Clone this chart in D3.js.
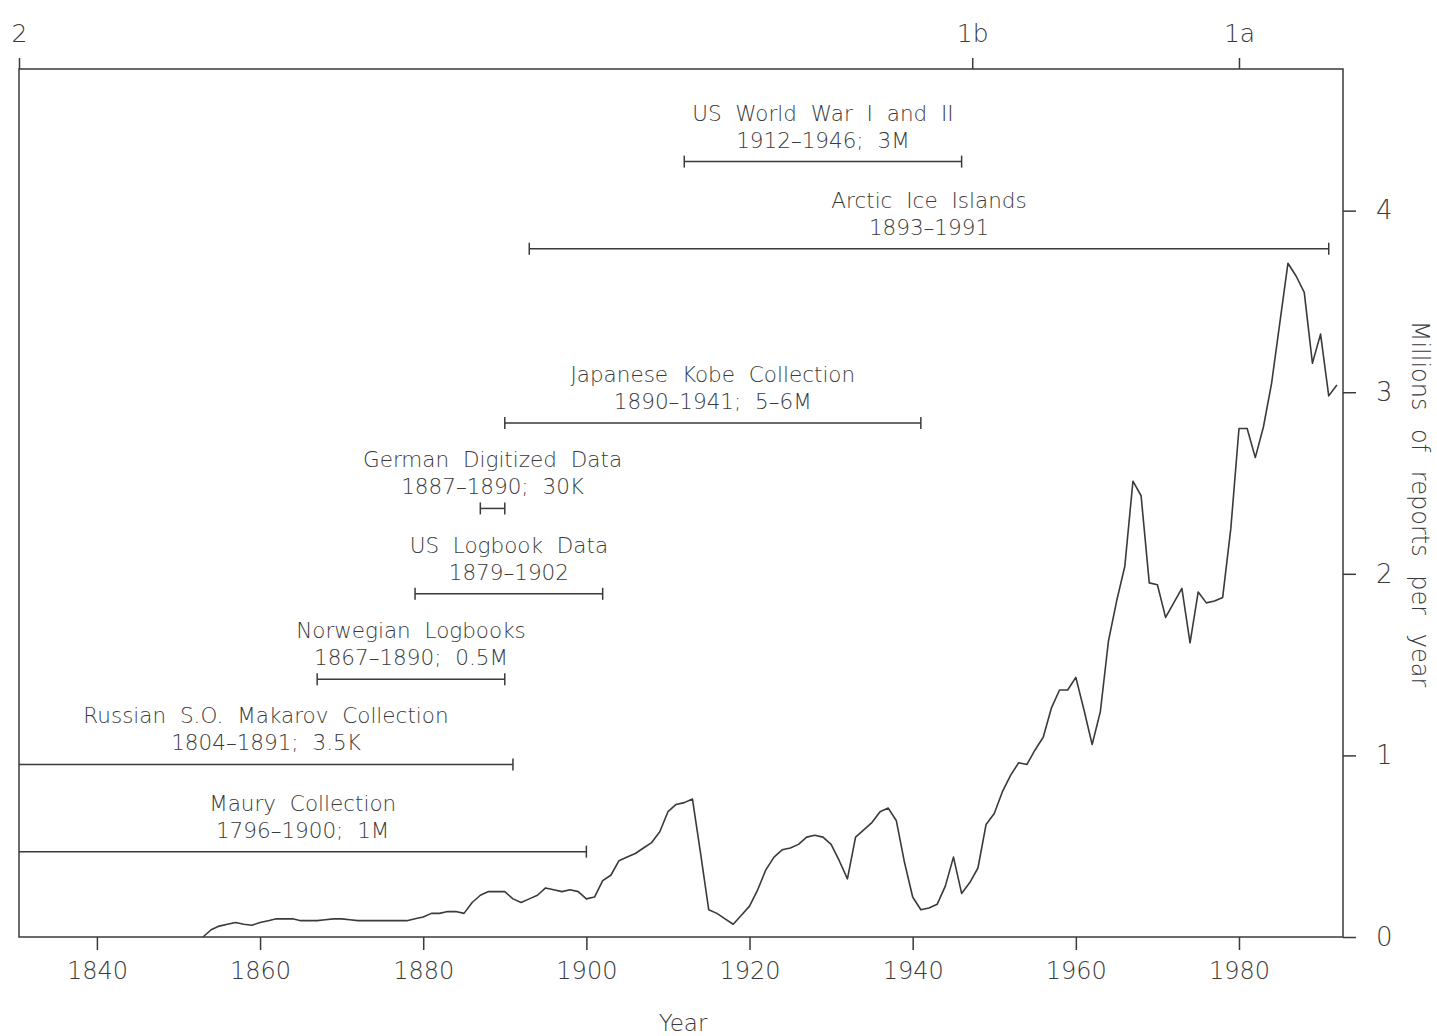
<!DOCTYPE html>
<html>
<head>
<meta charset="utf-8">
<script src="https://cdn.jsdelivr.net/npm/d3@7"></script>
<style>
  html, body { margin: 0; padding: 0; background: #fff; }
  svg { display: block; }
  text { font-family: "DejaVu Sans", "Liberation Sans", sans-serif; font-weight: 200; fill: #3a3a3a; }
</style>
</head>
<body>
<svg id="chart" width="1437" height="1036"></svg>
<script>
// ---- data ----
const years = [1853,1854,1855,1856,1857,1858,1859,1860,1861,1862,1863,1864,1865,1866,1867,1868,1869,1870,
  1871,1872,1873,1874,1875,1876,1877,1878,1879,1880,1881,1882,1883,1884,1885,1886,1887,1888,1889,1890,
  1891,1892,1893,1894,1895,1896,1897,1898,1899,1900,1901,1902,1903,1904,1905,1906,1907,1908,1909,1910,
  1911,1912,1913,1914,1915,1916,1917,1918,1919,1920,1921,1922,1923,1924,1925,1926,1927,1928,1929,1930,
  1931,1932,1933,1934,1935,1936,1937,1938,1939,1940,1941,1942,1943,1944,1945,1946,1947,1948,1949,1950,
  1951,1952,1953,1954,1955,1956,1957,1958,1959,1960,1961,1962,1963,1964,1965,1966,1967,1968,1969,1970,
  1971,1972,1973,1974,1975,1976,1977,1978,1979,1980,1981,1982,1983,1984,1985,1986,1987,1988,1989,1990,
  1991,1992];
const reports = [0.00,0.04,0.06,0.07,0.08,0.07,0.065,0.08,0.09,0.10,0.10,0.10,0.09,0.09,0.09,0.095,0.10,0.10,
  0.095,0.09,0.09,0.09,0.09,0.09,0.09,0.09,0.10,0.11,0.13,0.13,0.14,0.14,0.13,0.19,0.23,0.25,0.25,0.25,
  0.21,0.19,0.21,0.23,0.27,0.26,0.25,0.26,0.25,0.21,0.22,0.31,0.34,0.42,0.44,0.46,0.49,0.52,0.58,0.69,
  0.73,0.74,0.76,0.46,0.15,0.13,0.10,0.07,0.12,0.17,0.26,0.37,0.44,0.48,0.49,0.51,0.55,0.56,0.55,0.51,
  0.42,0.32,0.55,0.59,0.63,0.69,0.71,0.64,0.41,0.22,0.15,0.16,0.18,0.28,0.44,0.24,0.30,0.38,0.62,0.68,
  0.80,0.89,0.96,0.95,1.03,1.10,1.26,1.36,1.36,1.43,1.25,1.06,1.24,1.63,1.85,2.04,2.51,2.43,1.95,1.94,
  1.76,1.84,1.92,1.62,1.90,1.84,1.85,1.87,2.25,2.80,2.80,2.64,2.81,3.05,3.38,3.71,3.64,3.55,3.16,3.32,
  2.98,3.04];

const collectionNames = ["Maury Collection", "Russian S.O. Makarov Collection", "Norwegian Logbooks",
  "US Logbook Data", "German Digitized Data", "Japanese Kobe Collection", "Arctic Ice Islands",
  "US World War I and II"];
const collectionNotes = ["1796–1900; 1M", "1804–1891; 3.5K", "1867–1890; 0.5M", "1879–1902",
  "1887–1890; 30K", "1890–1941; 5–6M", "1893–1991", "1912–1946; 3M"];
const collectionStart = [1796, 1804, 1867, 1879, 1887, 1890, 1893, 1912];
const collectionEnd   = [1900, 1891, 1890, 1902, 1890, 1941, 1991, 1946];

const xTicks = [1840, 1860, 1880, 1900, 1920, 1940, 1960, 1980];
const yTicks = [0, 1, 2, 3, 4];
const topTickYears = [1830.45, 1947.3, 1980];
const topTickLabels = ["2", "1b", "1a"];

// ---- layout ----
const xDomain = [1830.45, 1992.75];
const yDomain = [0, 4.78];
const barLevels = [0.47, 0.95, 1.42, 1.89, 2.36, 2.83, 3.79, 4.27]; // vertical placement of range bars
const L = 19, R = 1343, T = 69, B = 937;
const ink = "#3a3a3a";

const svg = d3.select("#chart");
const x = d3.scaleLinear().domain(xDomain).range([L, R]);
const y = d3.scaleLinear().domain(yDomain).range([B, T]);

// frame
svg.append("rect").attr("x", L).attr("y", T).attr("width", R - L).attr("height", B - T)
  .attr("fill", "none").attr("stroke", ink).attr("stroke-width", 1.5);

// bottom axis
const xAxis = svg.append("g").attr("transform", `translate(0,${B})`)
  .call(d3.axisBottom(x).tickValues(xTicks).tickFormat(d3.format("d")).tickSize(13).tickPadding(12));
xAxis.select(".domain").remove();
xAxis.selectAll("line").attr("stroke", ink).attr("stroke-width", 1.5);
xAxis.selectAll("text").attr("font-size", 24).attr("fill", ink);

// right axis
const yAxis = svg.append("g").attr("transform", `translate(${R},0)`)
  .call(d3.axisRight(y).tickValues(yTicks).tickFormat(d3.format("d")).tickSize(13).tickPadding(20));
yAxis.select(".domain").remove();
yAxis.selectAll("line").attr("stroke", ink).attr("stroke-width", 1.5);
yAxis.selectAll("text").attr("font-size", 26).attr("fill", ink);

// top axis (era markers)
const topAxis = svg.append("g").attr("transform", `translate(0,${T})`)
  .call(d3.axisTop(x).tickValues(topTickYears).tickFormat((d, i) => topTickLabels[i]).tickSize(11).tickPadding(16));
topAxis.select(".domain").remove();
topAxis.selectAll("line").attr("stroke", ink).attr("stroke-width", 1.5);
topAxis.selectAll("text").attr("font-size", 25).attr("fill", ink);

// axis titles
svg.append("text").attr("x", 683).attr("y", 1031).attr("text-anchor", "middle")
  .attr("font-size", 23).text("Year");
svg.append("text").attr("transform", `translate(1412,504) rotate(90)`).attr("text-anchor", "middle")
  .attr("font-size", 24).attr("word-spacing", 11).text("Millions of reports per year");

// range bars
const bars = svg.append("g");
collectionNames.forEach((name, i) => {
  const s = Math.max(collectionStart[i], xDomain[0]);
  const e = Math.min(collectionEnd[i], xDomain[1]);
  const yy = y(barLevels[i]);
  const x0 = x(s), x1 = x(e);
  bars.append("line").attr("x1", x0).attr("x2", x1).attr("y1", yy).attr("y2", yy)
    .attr("stroke", ink).attr("stroke-width", 1.5);
  [[collectionStart[i], x0], [collectionEnd[i], x1]].forEach(([yr, px]) => {
    if (yr > xDomain[0] && yr < xDomain[1]) {
      bars.append("line").attr("x1", px).attr("x2", px).attr("y1", yy - 6).attr("y2", yy + 6)
        .attr("stroke", ink).attr("stroke-width", 1.5);
    }
  });
  const cx = (x0 + x1) / 2;
  bars.append("text").attr("x", cx).attr("y", yy - 41).attr("text-anchor", "middle")
    .attr("font-size", 21.5).attr("word-spacing", 7).text(name);
  bars.append("text").attr("x", cx).attr("y", yy - 14).attr("text-anchor", "middle")
    .attr("font-size", 21.5).attr("word-spacing", 7).text(collectionNotes[i]);
});

// data line
const line = d3.line().x((d, i) => x(years[i])).y(d => y(d));
svg.append("path").datum(reports).attr("d", line)
  .attr("fill", "none").attr("stroke", ink).attr("stroke-width", 1.6).attr("stroke-linejoin", "round");
</script>
</body>
</html>
